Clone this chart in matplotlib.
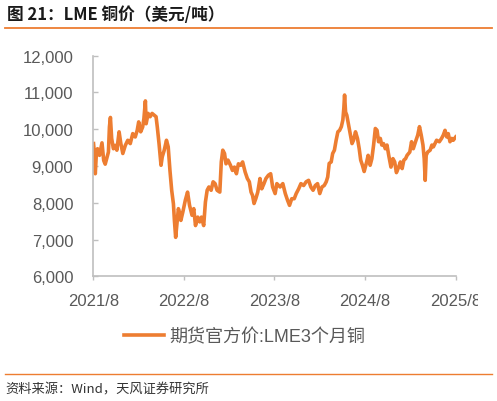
import pandas as pd
import matplotlib
matplotlib.use("Agg")
import matplotlib.pyplot as plt
from matplotlib.lines import Line2D
from matplotlib.transforms import Bbox

# -------------------- Data -------------------- #
dates = [
    "2021-08-02", "2021-08-05", "2021-08-09", "2021-08-13", "2021-08-18", "2021-08-26",
    "2021-09-05", "2021-09-12", "2021-09-18", "2021-09-26", "2021-10-01", "2021-10-05",
    "2021-10-09", "2021-10-14", "2021-10-21", "2021-10-28", "2021-11-04", "2021-11-13",
    "2021-11-20", "2021-11-28", "2021-12-08", "2021-12-18", "2021-12-28", "2022-01-07",
    "2022-01-17", "2022-01-25", "2022-01-31", "2022-02-08", "2022-02-16", "2022-02-21",
    "2022-02-27", "2022-03-02", "2022-03-10", "2022-03-18", "2022-03-26", "2022-04-04",
    "2022-04-11", "2022-04-16", "2022-04-23", "2022-05-01", "2022-05-06", "2022-05-14",
    "2022-05-23", "2022-05-30", "2022-06-06", "2022-06-13", "2022-06-20", "2022-06-24",
    "2022-06-29", "2022-07-03", "2022-07-10", "2022-07-16", "2022-07-20", "2022-07-28",
    "2022-08-07", "2022-08-16", "2022-08-24", "2022-09-03", "2022-09-10", "2022-09-17",
    "2022-09-26", "2022-10-04", "2022-10-11", "2022-10-20", "2022-10-27", "2022-11-03",
    "2022-11-10", "2022-11-19", "2022-11-27", "2022-12-05", "2022-12-13", "2022-12-24",
    "2022-12-30", "2023-01-05", "2023-01-12", "2023-01-18", "2023-01-26", "2023-02-05",
    "2023-02-13", "2023-02-21", "2023-03-01", "2023-03-09", "2023-03-18", "2023-03-26",
    "2023-04-05", "2023-04-14", "2023-04-22", "2023-04-29", "2023-05-05", "2023-05-11",
    "2023-05-18", "2023-05-26", "2023-06-04", "2023-06-11", "2023-06-20", "2023-06-28",
    "2023-07-08", "2023-07-17", "2023-07-25", "2023-08-04", "2023-08-11", "2023-08-24",
    "2023-09-04", "2023-09-14", "2023-09-23", "2023-10-01", "2023-10-10", "2023-10-20",
    "2023-10-28", "2023-11-07", "2023-11-16", "2023-11-27", "2023-12-07", "2023-12-17",
    "2023-12-26", "2024-01-04", "2024-01-13", "2024-01-22", "2024-01-31", "2024-02-09",
    "2024-02-18", "2024-02-26", "2024-03-03", "2024-03-09", "2024-03-17", "2024-03-23",
    "2024-03-30", "2024-04-06", "2024-04-13", "2024-04-20", "2024-04-27", "2024-05-03",
    "2024-05-07", "2024-05-10", "2024-05-14", "2024-05-19", "2024-05-24", "2024-06-02",
    "2024-06-09", "2024-06-15", "2024-06-23", "2024-07-01", "2024-07-08", "2024-07-14",
    "2024-07-21", "2024-07-28", "2024-08-07", "2024-08-13", "2024-08-21", "2024-08-28",
    "2024-09-04", "2024-09-11", "2024-09-18", "2024-09-24", "2024-10-01", "2024-10-07",
    "2024-10-14", "2024-10-21", "2024-10-28", "2024-11-04", "2024-11-13", "2024-11-21",
    "2024-11-28", "2024-12-05", "2024-12-14", "2024-12-21", "2024-12-28", "2025-01-04",
    "2025-01-11", "2025-01-17", "2025-01-28", "2025-02-04", "2025-02-11", "2025-02-20",
    "2025-03-01", "2025-03-08", "2025-03-15", "2025-03-22", "2025-03-27", "2025-03-31",
    "2025-04-04", "2025-04-10", "2025-04-20", "2025-04-27", "2025-05-03", "2025-05-16",
    "2025-05-27", "2025-06-05", "2025-06-12", "2025-06-19", "2025-06-26", "2025-07-02",
    "2025-07-09", "2025-07-16", "2025-07-22", "2025-08-01",
]
prices = [
    9610, 9380, 8790, 9290, 9470, 9290,
    9630, 9150, 9050, 9250, 9380, 10060,
    10320, 9750, 9470, 9560, 9430, 9930,
    9610, 9340, 9560, 9700, 9610, 9880,
    9790, 9970, 10200, 9930, 10060, 10290,
    10770, 10150, 10430, 10340, 10430, 10380,
    10340, 10060, 9610, 9020, 9250, 9430,
    9700, 9520, 8880, 8340, 7970, 7520,
    7060, 7340, 7840, 7700, 7520, 7750,
    8070, 8290, 7930, 7660, 7840, 7380,
    7610, 7480, 7610, 7380, 8020, 8340,
    8430, 8340, 8570, 8520, 8340, 8290,
    9110, 9430, 9340, 9060, 9160, 9020,
    8880, 8970, 8790, 9060, 9020, 9110,
    8840, 8660, 8570, 8290, 8200, 7980,
    8110, 8290, 8660, 8380, 8520, 8660,
    8750, 8790, 8430, 8250, 8520, 8430,
    8520, 8250, 8070, 7930, 8110, 8110,
    8250, 8380, 8520, 8470, 8570, 8610,
    8430, 8340, 8470, 8520, 8250, 8430,
    8470, 8570, 8700, 9070, 9110, 9340,
    9430, 9700, 9930, 9970, 10070, 10250,
    10570, 10930, 10470, 10380, 10200, 9880,
    9610, 9700, 9930, 9750, 9470, 9160,
    9020, 8850, 9110, 9290, 9020, 9200,
    9570, 10020, 9970, 9660, 9750, 9570,
    9610, 9470, 9570, 9290, 8970, 9200,
    9110, 8820, 8970, 9110, 8930, 9160,
    9200, 9290, 9380, 9660, 9470, 9660,
    9840, 10070, 9840, 9570, 9200, 8610,
    9290, 9380, 9430, 9570, 9520, 9700,
    9660, 9750, 9840, 9970, 9790, 9880,
    9660, 9750, 9700, 9790,
]
y_ticks = [6000, 7000, 8000, 9000, 10000, 11000, 12000]
x_ticks = ["2021-08-01", "2022-08-01", "2023-08-01", "2024-08-01", "2025-08-01"]
x_labels = ["2021/8", "2022/8", "2023/8", "2024/8", "2025/8"]

title = "图 21：LME 铜价（美元/吨）"
series_name = "期货官方价:LME3个月铜"
source = "资料来源：Wind，天风证券研究所"

ORANGE = "#ED7D31"
GRAY_TXT = "#595959"
GRAY_AX = "#BFBFBF"

plt.rcParams["font.family"] = ["Liberation Sans", "Noto Sans CJK SC"]

# -------------------- Figure -------------------- #
fig = plt.figure(figsize=(4.97, 4.02), dpi=100)
W, H = 497, 402
ax = fig.add_axes([93.3 / W, 1 - 277.3 / H, (455.7 - 93.3) / W, (277.3 - 56.7) / H])

line, = ax.plot(pd.to_datetime(dates), prices, color=ORANGE, lw=2.6,
                solid_joinstyle="round", label=series_name)

ax.set_ylim(6000, 12000)
ax.set_xlim(pd.Timestamp(x_ticks[0]), pd.Timestamp(x_ticks[-1]))
ax.set_yticks(y_ticks)
ax.set_yticklabels([f"{v:,}" for v in y_ticks])
ax.set_xticks(pd.to_datetime(x_ticks))
ax.set_xticklabels(x_labels)

for side in ["top", "right"]:
    ax.spines[side].set_visible(False)
for side in ["left", "bottom"]:
    ax.spines[side].set_color(GRAY_AX)
    ax.spines[side].set_linewidth(1.2)

ax.tick_params(axis="y", direction="in", length=3.6, width=1.0, color=GRAY_AX,
               labelsize=12, labelcolor=GRAY_TXT, pad=14.4)
ax.tick_params(axis="x", direction="out", length=2.9, width=1.0, color=GRAY_AX,
               labelsize=12, labelcolor=GRAY_TXT, pad=9)

# last x label is cut off at the right in the original
for lab in ax.get_xticklabels():
    lab.set_clip_on(True)
    lab.set_clip_box(Bbox.from_extents(0, 0, 478, H))

# -------------------- Legend -------------------- #
fig.legend(handles=[line], loc="center", bbox_to_anchor=(245 / W, 1 - 337.5 / H),
           frameon=False, fontsize=13, handlelength=2.2, handletextpad=0.3,
           labelcolor=GRAY_TXT)

# -------------------- Title, rules, source -------------------- #
fig.text(7 / W, 1 - 15 / H, title, fontsize=12, fontweight="bold",
         family=["Noto Sans CJK SC", "DejaVu Sans"], color="#1a1a1a", va="center", ha="left")
fig.add_artist(Line2D([5 / W, 492 / W], [1 - 29 / H] * 2, color=ORANGE, lw=1.3))
fig.add_artist(Line2D([5 / W, 492 / W], [1 - 374.5 / H] * 2, color=ORANGE, lw=1.0))
fig.text(5 / W, 1 - 390 / H, source, fontsize=9.5,
         family=["Noto Sans CJK SC", "DejaVu Sans"], color="#333333", va="center", ha="left")

fig.savefig("out.png", dpi=100)
